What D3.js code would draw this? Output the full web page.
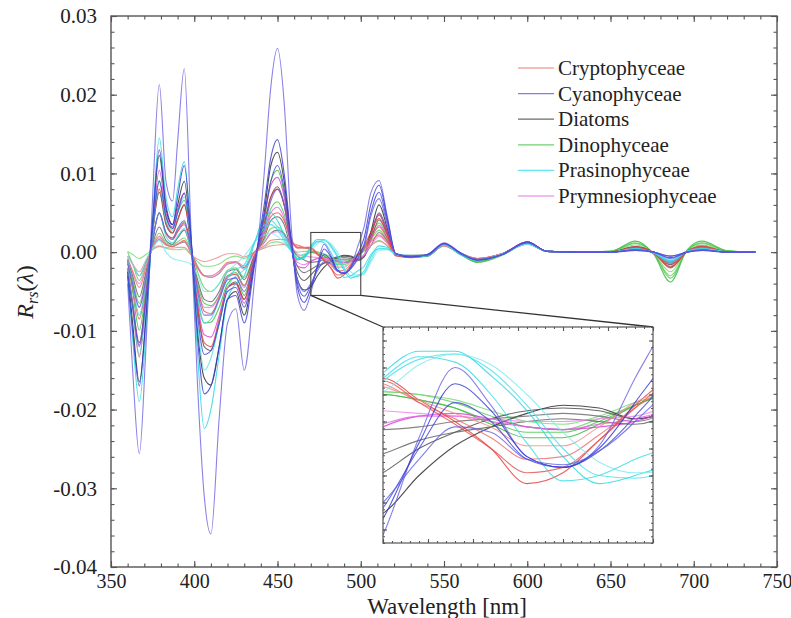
<!DOCTYPE html>
<html><head><meta charset="utf-8">
<script src="https://cdn.jsdelivr.net/npm/d3@7"></script>
<style>
body{margin:0;background:#fff}
</style>
</head><body>
<svg id="chart" width="791" height="618"></svg>
<script>
// wavelengths (nm) at which the spectra were read
const wavelengths = [360,363,367,371,375,379,383,387,390,394,398,
  402,406,410,415,420,425,430,436,442,446,
  450,454,458,462,466,
  470,474,478,482,486,490,494,498,502,
  506,511,516,521,
  530,540,550,560,570,585,600,612,630,650,665,676,686,696,705,720,737];
const UNIT = 1e-3; // values below are in units of 10^-3

const cyanophyceae = [
 [-4,-15,-25.6,-12,7,21.3,9,6.5,14,23.3,3, -17,-31,-35.8,-21,-9,-7.2,-15,-4,10,21, 25.9,19,4,-5.5,-7.4, -5.2,-1.6,1.0,-0.4,-2.3,-2.7,-1.9,0.6,3.2, 7.5,9.1,4.5,-0.2, -0.6,-0.3,1.2,-0.1,-1.0,-0.3,1.3,0.1,0,0,0.2,0,-0.5,0,0.2,0,0],
 [-3,-10,-17,-8,4,13,6,3.5,7,11,2, -11,-18,-17,-12,-6,-5.5,-9,-2,6,12, 14.3,10,2,-4.5,-6.4, -4.6,-1.8,0.4,-0.6,-2.3,-2.7,-2.0,-0.3,1.8, 6,8.5,4.2,-0.2, -0.6,-0.3,1.1,-0.1,-1.0,-0.3,1.3,0.1,0,0,0.3,0,-0.7,0,0.3,0,0],
 [-2.5,-7,-12,-6,3,9,4.5,3,5,7.5,1.5, -8,-13,-12.5,-9,-5,-4.5,-7,-1.5,4.5,9, 11,8,1.5,-4,-5.6, -4.2,-2.0,-0.3,-1.0,-2.4,-2.7,-2.1,-0.8,1.0, 5,7.6,3.8,-0.2, -0.5,-0.4,1.1,-0.2,-1.0,-0.3,1.2,0.1,0,0,0.2,0,-0.5,0,0.2,0,0],
 [-1.5,-4,-7,-3.5,1.5,5,2.5,1.8,3,4,0.5, -5,-8,-8,-6,-3.5,-3.3,-5,-1,3,6.5, 8,6,1,-3.5,-5.0, -4.0,-2.4,-1.2,-1.4,-2.4,-2.6,-2.1,-1.0,0.6, 4.5,6.8,3.4,-0.2, -0.5,-0.4,1.0,-0.2,-0.9,-0.3,1.2,0.1,0,0,0.3,0,-0.8,0,0.3,0,0]
];
const prasinophyceae = [
 [-3,-11,-19,-10,4,14.5,7,4.5,8,11.5,2, -13,-22.4,-20,-13,-6,-4,-3,1,4.5,5, 4,2.2,0.5,-0.8,-0.6, 0.8,1.6,1.6,0.7,-0.6,-2.3,-3.3,-3.0,-2.4, -0.6,0.8,0.6,-0.3, -0.6,-0.5,1.0,-0.3,-1.1,-0.3,1.1,0.1,0,0,0.5,-0.1,-1.3,0.1,0.5,0.05,0],
 [-2,-7,-13,-6.5,2.5,9,4,2.8,5,7,1, -9,-15,-13.5,-9,-4.5,-3,-2.2,1.2,3.5,4, 3.2,1.8,0.3,-0.9,-0.8, 0.5,1.3,1.5,0.9,-0.4,-2.0,-3.0,-3.1,-2.7, -1.0,0.5,0.4,-0.3, -0.5,-0.4,0.9,-0.3,-1.0,-0.3,1.1,0.1,0,0,0.4,-0.1,-1.1,0.1,0.4,0.05,0],
 [-0.5,-1.5,-3,-1,0.5,1.5,0,-0.8,-1,-1.2,-1.5, -3,-5,-5,-4,-2.5,-1.5,-0.5,1.2,2.2,2.4, 2,1.2,0.2,-0.5,-0.2, 0.1,1.1,1.5,1.1,0.0,-1.4,-2.5,-2.9,-2.8, -1.3,0.2,0.3,-0.2, -0.4,-0.4,0.9,-0.2,-1.0,-0.2,1.0,0.1,0,0,0.3,0,-0.9,0.1,0.3,0,0],
 [-1,-4,-8,-4,1.5,5,2,1.2,2,3,0, -5.5,-9,-8.5,-6,-3.3,-2.2,-1.6,1.2,3,3.5, 2.8,1.5,0.2,-0.9,-0.7, 0.6,1.4,1.2,0.0,-1.8,-3.2,-3.0,-2.4,-1.8, -0.3,0.4,0.4,-0.2, -0.5,-0.4,0.9,-0.3,-1.0,-0.3,1.1,0.1,0,0,0.4,-0.1,-1.1,0.1,0.4,0.05,0]
];
const diatoms = [
 [-2.5,-9,-16.5,-8.5,3.5,12.3,5.5,3.5,6,9,1.5, -10,-16,-16.9,-12,-6,-5,-8,-1.5,5,11, 12.7,9,1.5,-3.5,-4.8, -4.4,-3.0,-1.9,-1.2,-0.7,-0.4,-0.5,-0.9,-0.6, 2.5,6,3,-0.3, -0.6,-0.4,1.0,-0.2,-0.9,-0.2,1.2,0.1,0,0,0.6,-0.1,-1.6,0.1,0.6,0.05,0],
 [-2,-6.5,-11.5,-5.5,2.5,7.6,3.5,2.4,4,6,1, -7,-12,-12.5,-9,-4.5,-3.8,-6,-1,3.5,7, 8.3,6,1,-2.6,-3.6, -2.9,-2.0,-1.4,-0.9,-0.6,-0.5,-0.6,-0.9,-0.5, 2,5,2.6,-0.3, -0.5,-0.4,1.0,-0.2,-0.9,-0.2,1.1,0.1,0,0,0.7,-0.1,-1.9,0.1,0.7,0.05,0],
 [-1,-3,-5.7,-2.5,1,3.2,1.5,1,1.8,2.8,0.3, -3.5,-6,-6.3,-5,-2.5,-2.2,-3.5,-0.5,1.8,4, 4.5,3.5,0.5,-1.8,-2.6, -2.2,-1.7,-1.4,-1.2,-1.0,-0.9,-1.0,-1.1,-0.6, 1.5,4.1,2.2,-0.3, -0.5,-0.3,0.9,-0.2,-0.8,-0.2,1.1,0.1,0,0,0.5,-0.1,-1.4,0.1,0.5,0.05,0],
 [-0.5,-1.5,-3,-1.2,0.5,1.6,0.9,0.7,1,1.3,0, -1.8,-3,-3.2,-2.7,-1.5,-1.3,-2,0,1.2,2.4, 2.8,2.3,0.8,-0.5,-1.0, -1.3,-1.2,-1.0,-0.9,-0.8,-0.7,-0.8,-1.0,-0.5, 0.8,2.5,1.4,-0.3, -0.4,-0.3,0.9,-0.1,-0.8,-0.2,1.0,0.1,0,0,0.4,0,-1.2,0.1,0.4,0,0]
];
const dinophyceae = [
 [-1,-5,-9.9,-4.5,3,9.1,4.5,3,5,6.6,1, -6,-9,-8.9,-7,-4,-3.2,-5.5,-0.8,4,9, 10.4,7.5,1.5,-1,-0.6, 0.0,-0.2,-0.5,-1.1,-1.6,-1.6,-1.1,-0.4,0.3, 2.5,4.7,2.4,-0.4, -0.6,-0.5,0.9,-0.3,-1.3,-0.4,1.1,0.1,0,0.1,1.4,-0.3,-3.8,0.3,1.4,0.2,0],
 [0,-1.5,-3.6,-1.5,0.8,2.4,1.2,0.9,1.3,1.8,0.2, -2.5,-4.5,-5,-4,-2.3,-2,-3.2,-0.5,1.5,3, 3.2,2.4,0.6,-0.5,-0.3, 0.1,0,-0.3,-0.8,-1.2,-1.3,-0.9,-0.4,0.2, 1.5,2.8,1.5,-0.3, -0.5,-0.5,0.9,-0.3,-1.2,-0.3,1.1,0.1,0,0.1,1.1,-0.2,-3.0,0.2,1.1,0.15,0],
 [0.1,-0.3,-0.8,-0.3,0.3,0.7,0.5,0.3,0.3,0.4,-0.3, -1.2,-1.8,-1.8,-1.5,-0.8,-0.5,-0.8,0,0.6,1.2, 1.3,1.0,0.4,0,0.1, 0.1,0,-0.2,-0.6,-1.0,-1.1,-0.8,-0.3,0.1, 0.8,1.5,0.8,-0.2, -0.5,-0.4,0.8,-0.3,-1.1,-0.3,1.0,0.1,0,0.1,0.9,-0.2,-2.5,0.2,0.9,0.1,0],
 [-1,-3.5,-6.5,-3,1.5,5,2.5,1.8,2.8,3.8,0.5, -4,-6.5,-6.8,-5.5,-3,-2.6,-4.3,-0.6,2.5,5.5, 6.4,4.8,1.2,-0.8,-0.5, 0.0,-0.2,-0.5,-1.0,-1.4,-1.4,-1.0,-0.4,0.3, 2,3.7,1.9,-0.3, -0.5,-0.5,0.9,-0.3,-1.2,-0.3,1.1,0.1,0,0.1,1.2,-0.2,-3.3,0.2,1.2,0.15,0]
];
const cryptophyceae = [
 [-2,-7,-13.3,-6,2.5,8,3.8,2.5,4.2,6,0.8, -7,-11.5,-12,-8.5,-4.5,-4,-6,-1,3.5,7, 8,6,2,0.5,0.6, 0.6,-0.2,-1.0,-2.0,-3.3,-2.9,-1.7,-0.4,0.8, 2.5,4.3,2.2,-0.5, -0.7,-0.5,0.9,-0.2,-0.9,-0.2,1.3,0.1,0,0,0.7,-0.1,-2.0,0.1,0.8,0.05,0],
 [-0.8,-2.5,-4.5,-2,0.6,2,1,0.7,1,1.5,-0.2, -2,-3,-3,-2.4,-1.3,-1.2,-1.8,0,0.8,1.5, 1.6,1.6,1.2,0.9,0.6, 0.4,-0.3,-0.9,-1.6,-2.4,-2.3,-1.5,-0.5,0.4, 1.3,2.2,1.2,-0.4, -0.6,-0.4,0.8,-0.2,-0.8,-0.2,1.2,0.1,0,0,0.5,-0.1,-1.5,0.1,0.6,0.05,0],
 [-0.5,-1.5,-2.5,-1,0.4,0.8,0.6,0.5,0.6,0.6,-0.3, -0.9,-1.2,-1.0,-0.6,-0.2,-0.2,-0.6,0,0.5,0.8, 0.9,1.0,0.9,0.8,0.6, 0.3,-0.2,-0.7,-1.2,-1.9,-1.9,-1.2,-0.3,0.3, 0.9,1.4,0.8,-0.3, -0.5,-0.4,0.8,-0.1,-0.8,-0.2,1.1,0.1,0,0,0.4,0,-1.2,0.1,0.5,0,0],
 [-1.2,-4.5,-8.5,-4,1.5,5,2.4,1.6,2.6,3.7,0.3, -4.5,-7.5,-7.8,-5.8,-3.2,-2.8,-4.2,-0.6,2.2,4.5, 5,4,1.6,0.6,0.5, 0.5,-0.3,-1.1,-2.0,-2.9,-2.7,-1.7,-0.5,0.6, 1.8,3.2,1.7,-0.4, -0.6,-0.4,0.9,-0.2,-0.9,-0.2,1.2,0.1,0,0,0.6,-0.1,-1.8,0.1,0.7,0.05,0]
];
const prymnesiophyceae = [
 [-2,-6.5,-11.8,-5.5,3,10.4,5,3.2,5.5,7.5,1.2, -6.5,-10.5,-10.8,-8,-4.5,-4,-6.5,-1,4.5,8.5, 9.5,7,1.5,-1.8,-2.0, -1.2,-0.8,-0.7,-0.9,-1.2,-1.3,-1.2,-1.0,-0.4, 2.2,4.8,2.5,-0.4, -0.6,-0.4,1.0,-0.2,-0.9,-0.2,1.2,0.1,0,0,0.5,-0.1,-1.3,0.1,0.5,0.05,0],
 [-1.2,-4,-7,-3.3,1.5,4.9,2.4,1.6,2.6,3.5,0.4, -4.5,-7,-7,-5.5,-3,-2.8,-4.5,-0.6,2.5,5, 5.7,4.3,1,-1.3,-1.6, -1.1,-0.8,-0.8,-1.0,-1.2,-1.3,-1.1,-0.9,-0.4, 1.5,3.4,1.8,-0.3, -0.5,-0.4,0.9,-0.2,-0.9,-0.2,1.1,0.1,0,0,0.4,0,-1.1,0.1,0.4,0,0],
 [-0.8,-2.4,-4,-1.8,0.6,1.8,1,0.8,1,1.4,0, -2,-3,-3.2,-2.6,-1.5,-1.3,-2.2,-0.2,1.2,2.4, 2.6,2.1,0.9,-0.2,-0.5, -0.6,-0.7,-0.8,-0.9,-1.0,-1.0,-0.9,-0.8,-0.3, 0.8,2,1.1,-0.2, -0.5,-0.3,0.9,-0.1,-0.8,-0.2,1.0,0.1,0,0,0.3,0,-0.9,0.1,0.3,0,0]
];

const groupNames = ["Cryptophyceae","Cyanophyceae","Diatoms","Dinophyceae","Prasinophyceae","Prymnesiophyceae"];
const groupColors = ["#e8504c","#5a55dc","#3a3a3a","#40c040","#30dde6","#e04ce0"];
const curveColors = {
  Cryptophyceae: ["#e23a38","#ee6a66","#f08a88","#e65050"],
  Cyanophyceae: ["#6d62e2","#2f33d2","#4444d6","#5f5fe6"],
  Diatoms: ["#222222","#444444","#5a5a5a","#666666"],
  Dinophyceae: ["#2fb82f","#5acc5a","#70d870","#44c444"],
  Prasinophyceae: ["#22d6e2","#45e0e8","#7aeaf0","#35dbe4"],
  Prymnesiophyceae: ["#d63ad6","#e264e2","#ec86ea"]
};
const seriesByGroup = {
  Cryptophyceae: cryptophyceae, Cyanophyceae: cyanophyceae, Diatoms: diatoms,
  Dinophyceae: dinophyceae, Prasinophyceae: prasinophyceae, Prymnesiophyceae: prymnesiophyceae
};
const drawOrder = ["Dinophyceae","Diatoms","Prymnesiophyceae","Cryptophyceae","Prasinophyceae","Cyanophyceae"];

const xTicks = [350,400,450,500,550,600,650,700,750];
const yTicks = [-0.04,-0.03,-0.02,-0.01,0,0.01,0.02,0.03];
const yTickLabels = ["-0.04","-0.03","-0.02","-0.01","0.00","0.01","0.02","0.03"];
const zoomRange = {x:[470,500], y:[-0.0055,0.0025]};

const FONT = '"Liberation Serif", "Times New Roman", Times, serif';
const svg = d3.select("#chart");
const M = {l:111, r:777, t:16, b:567};
const x = d3.scaleLinear().domain([350,750]).range([M.l,M.r]);
const y = d3.scaleLinear().domain([-0.04,0.03]).range([M.b,M.t]);

const defs = svg.append("defs");
defs.append("clipPath").attr("id","clipMain").append("rect")
  .attr("x",M.l).attr("y",M.t).attr("width",M.r-M.l).attr("height",M.b-M.t);

const allSeries = [];
drawOrder.forEach(g=>{
  seriesByGroup[g].forEach((vals,i)=>{
    allSeries.push({group:g, color:curveColors[g][i%curveColors[g].length],
      pts: wavelengths.map((w,j)=>({w, v: vals[j]*UNIT}))});
  });
});

function drawCurves(parent, xs, ys, clipId){
  const line = d3.line().x(d=>xs(d.w)).y(d=>ys(d.v)).curve(d3.curveMonotoneX);
  parent.append("g").attr("clip-path",`url(#${clipId})`)
    .selectAll("path").data(allSeries).join("path")
    .attr("d",d=>line(d.pts)).attr("fill","none")
    .attr("stroke",d=>d.color).attr("stroke-width",1.1).attr("stroke-opacity",0.8);
}
drawCurves(svg, x, y, "clipMain");

// axes (inward ticks on all four sides)
const axisColor = "#555";
function styleAxis(g){
  g.attr("font-family",null).attr("font-size",null);
  g.selectAll("path").remove();
  g.selectAll("line").attr("stroke",axisColor).attr("stroke-width",1.1);
}
const xMinor = d3.range(350,751,10), yMinor = d3.range(-40,31,2).map(v=>v/1000);
svg.append("g").attr("transform",`translate(0,${M.b})`)
  .call(d3.axisBottom(x).tickValues(xMinor).tickSize(-3.5).tickFormat("")).call(styleAxis);
svg.append("g").attr("transform",`translate(0,${M.t})`)
  .call(d3.axisTop(x).tickValues(xMinor).tickSize(-3.5).tickFormat("")).call(styleAxis);
svg.append("g").attr("transform",`translate(${M.l},0)`)
  .call(d3.axisLeft(y).tickValues(yMinor).tickSize(-3.5).tickFormat("")).call(styleAxis);
svg.append("g").attr("transform",`translate(${M.r},0)`)
  .call(d3.axisRight(y).tickValues(yMinor).tickSize(-3.5).tickFormat("")).call(styleAxis);

const gx = svg.append("g").attr("transform",`translate(0,${M.b})`)
  .call(d3.axisBottom(x).tickValues(xTicks).tickSize(-6).tickPadding(7).tickFormat(d=>String(d))).call(styleAxis);
svg.append("g").attr("transform",`translate(0,${M.t})`)
  .call(d3.axisTop(x).tickValues(xTicks).tickSize(-6).tickFormat("")).call(styleAxis);
const gy = svg.append("g").attr("transform",`translate(${M.l},0)`)
  .call(d3.axisLeft(y).tickValues(yTicks).tickSize(-6).tickPadding(14).tickFormat((d,i)=>yTickLabels[i])).call(styleAxis);
svg.append("g").attr("transform",`translate(${M.r},0)`)
  .call(d3.axisRight(y).tickValues(yTicks).tickSize(-6).tickFormat("")).call(styleAxis);
gx.selectAll("text").attr("font-size",20);
gy.selectAll("text").attr("font-size",21);

svg.append("rect").attr("x",M.l).attr("y",M.t).attr("width",M.r-M.l).attr("height",M.b-M.t)
  .attr("fill","none").attr("stroke",axisColor).attr("stroke-width",1.4);

// axis titles
svg.append("text").attr("x",(M.l+M.r)/2+3).attr("y",614).attr("text-anchor","middle")
  .attr("font-size",23).text("Wavelength [nm]");
const yl = svg.append("text").attr("transform","translate(33,292) rotate(-90)")
  .attr("text-anchor","middle").attr("font-size",24);
yl.append("tspan").attr("font-style","italic").text("R");
yl.append("tspan").attr("font-style","italic").attr("font-size",16).attr("dy",5).text("rs");
yl.append("tspan").attr("dy",-5).text("(");
yl.append("tspan").attr("font-style","italic").text("λ");
yl.append("tspan").text(")");

// legend
const lg = svg.append("g");
groupNames.forEach((n,i)=>{
  const yy = 68 + i*25.6;
  lg.append("line").attr("x1",518).attr("x2",554).attr("y1",yy).attr("y2",yy)
    .attr("stroke",groupColors[i]).attr("stroke-width",1.2).attr("stroke-opacity",0.75);
  lg.append("text").attr("x",558).attr("y",yy).attr("dy","0.33em").attr("font-size",21).text(n);
});

// zoom box + inset
const I = {l:383, r:653, t:327, b:543};
const xi = d3.scaleLinear().domain(zoomRange.x).range([I.l,I.r]);
const yi = d3.scaleLinear().domain(zoomRange.y).range([I.b,I.t]);
const bx0 = x(zoomRange.x[0]), bx1 = x(zoomRange.x[1]), by0 = y(zoomRange.y[1]), by1 = y(zoomRange.y[0]);
svg.append("rect").attr("x",bx0).attr("y",by0).attr("width",bx1-bx0).attr("height",by1-by0)
  .attr("fill","none").attr("stroke","#444").attr("stroke-width",1.1);
svg.append("line").attr("x1",bx0).attr("y1",by1).attr("x2",I.l).attr("y2",I.t).attr("stroke","#333").attr("stroke-width",1.3);
svg.append("line").attr("x1",bx1).attr("y1",by1).attr("x2",I.r).attr("y2",I.t).attr("stroke","#333").attr("stroke-width",1.3);
svg.append("rect").attr("x",I.l).attr("y",I.t).attr("width",I.r-I.l).attr("height",I.b-I.t).attr("fill","#fff");
defs.append("clipPath").attr("id","clipInset").append("rect")
  .attr("x",I.l).attr("y",I.t).attr("width",I.r-I.l).attr("height",I.b-I.t);
drawCurves(svg, xi, yi, "clipInset");
const xiMinor = d3.range(470,500.1,1), xiMajor = d3.range(470,500.1,5);
const yiMinor = d3.range(-55,25.1,2.5).map(v=>v/10000), yiMajor = d3.range(-50,25.1,10).map(v=>v/10000);
[[d3.axisBottom,I.b,xi,xiMinor,-2],[d3.axisTop,I.t,xi,xiMinor,-2],[d3.axisBottom,I.b,xi,xiMajor,-4],[d3.axisTop,I.t,xi,xiMajor,-4]]
  .forEach(([ax,pos,sc,tv,ts])=>svg.append("g").attr("transform",`translate(0,${pos})`)
    .call(ax(sc).tickValues(tv).tickSize(ts).tickFormat("")).call(styleAxis));
[[d3.axisLeft,I.l,yi,yiMinor,-2],[d3.axisRight,I.r,yi,yiMinor,-2],[d3.axisLeft,I.l,yi,yiMajor,-4],[d3.axisRight,I.r,yi,yiMajor,-4]]
  .forEach(([ax,pos,sc,tv,ts])=>svg.append("g").attr("transform",`translate(${pos},0)`)
    .call(ax(sc).tickValues(tv).tickSize(ts).tickFormat("")).call(styleAxis));
svg.append("rect").attr("x",I.l).attr("y",I.t).attr("width",I.r-I.l).attr("height",I.b-I.t)
  .attr("fill","none").attr("stroke","#555").attr("stroke-width",1.2);

// one serif face for every text, as in the reference
svg.selectAll("text").style("font-family",FONT).style("fill","#222");
</script>
</body></html>
